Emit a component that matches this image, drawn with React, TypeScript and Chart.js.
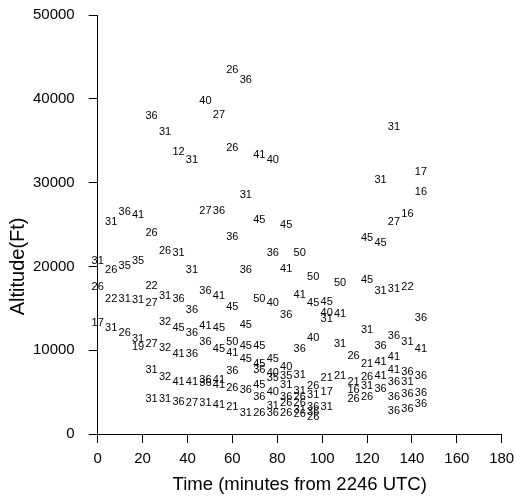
import React, { useEffect, useRef } from "react";
import { Chart, registerables } from "chart.js";
Chart.register(...registerables);

// minutes from 2246 UTC
const times = [
  60, 66, 48, 54, 24, 30, 36, 42, 60, 72, 78, 132, 144, 126, 144, 138, 132, 120, 126, 66,
  6, 12, 18, 48, 54, 24, 72, 84, 60, 30, 36, 0, 6, 12, 18, 42, 78, 90, 66, 84,
  96, 108, 120, 126, 132, 138, 0, 24, 6, 12, 18, 24, 30, 36, 48, 54, 72, 78, 90, 96,
  102, 60, 42, 84, 102, 102, 108, 144, 0, 6, 12, 18, 18, 24, 30, 36, 42, 48, 54, 66,
  30, 36, 42, 48, 54, 60, 60, 66, 72, 66, 78, 96, 90, 120, 108, 132, 138, 126, 144, 114,
  120, 126, 132, 132, 138, 144, 24, 30, 36, 42, 48, 48, 54, 54, 60, 60, 66, 72, 72, 84,
  78, 78, 84, 90, 102, 108, 120, 126, 114, 132, 138, 72, 78, 84, 72, 96, 102, 90, 84, 90,
  96, 114, 120, 126, 132, 138, 144, 114, 120, 144, 132, 138, 102, 24, 30, 36, 42, 48, 54, 60,
  66, 72, 78, 78, 84, 90, 90, 96, 96, 96, 84, 90,
];

// altitude (ft)
const altitudes = [
  43500, 42200, 39700, 38100, 37900, 36100, 33600, 32700, 34100, 33300, 32700, 36600, 31300, 30300, 28900, 26300, 25300, 23400, 22800, 28500,
  25300, 26500, 26100, 26600, 26600, 24000, 25500, 25000, 23500, 21800, 21600, 20600, 19600, 20000, 20600, 19600, 21600, 21600, 19600, 19700,
  18700, 18000, 18400, 17100, 17300, 17600, 17600, 17700, 16100, 16100, 16000, 15600, 16500, 16100, 17100, 16500, 16100, 15600, 16600, 15600,
  15700, 15100, 14800, 14200, 14400, 13700, 14300, 13800, 13300, 12600, 12100, 11300, 10400, 10700, 13400, 12600, 12100, 12900, 12600, 13000,
  10300, 9600, 9500, 11000, 10100, 11000, 9700, 10500, 10500, 9000, 9000, 11400, 10200, 12400, 10700, 11700, 11000, 10500, 10200, 9300,
  8400, 8600, 9200, 7700, 7400, 6900, 7600, 6800, 6200, 6200, 6400, 6050, 6400, 5850, 7550, 5450, 5200, 8350, 7700, 8000,
  7300, 6650, 6900, 7000, 6650, 6900, 6750, 6900, 6250, 6250, 6250, 5850, 5050, 5850, 4450, 5750, 5050, 5150, 4450, 4400,
  4650, 5250, 5750, 5350, 4450, 4750, 4950, 4200, 4400, 3550, 2800, 2950, 3200, 4150, 4150, 3850, 3650, 3650, 3450, 3250,
  2550, 2550, 2550, 3350, 3650, 3750, 2850, 3250, 2650, 2050, 2500, 2400,
];

const pointLabels = [
  "26", "36", "40", "27", "36", "31", "12", "31", "26", "41", "40", "31", "17", "31", "16", "16", "27", "45", "45", "31",
  "31", "36", "41", "27", "36", "26", "45", "45", "36", "26", "31", "31", "26", "35", "35", "31", "36", "50", "36", "41",
  "50", "50", "45", "31", "31", "22", "26", "22", "22", "31", "31", "27", "31", "36", "36", "41", "50", "40", "41", "45",
  "45", "45", "36", "36", "40", "31", "41", "36", "17", "31", "26", "31", "19", "27", "32", "45", "36", "41", "45", "45",
  "32", "41", "36", "36", "45", "50", "41", "45", "45", "45", "45", "40", "36", "31", "31", "36", "31", "36", "41", "26",
  "21", "41", "41", "41", "36", "36", "31", "32", "41", "41", "36", "36", "41", "41", "36", "26", "36", "45", "36", "40",
  "40", "35", "35", "31", "21", "21", "26", "41", "21", "36", "31", "45", "40", "31", "36", "26", "17", "31", "36", "26",
  "31", "16", "31", "36", "36", "36", "36", "26", "26", "36", "36", "36", "31", "31", "31", "36", "27", "31", "41", "21",
  "31", "26", "36", "31", "26", "26", "31", "36", "36", "26", "26", "26",
];

const xTickValues = [0, 20, 40, 60, 80, 100, 120, 140, 160, 180];
const yTickValues = [0, 10000, 20000, 30000, 40000, 50000];
const xTitle = "Time (minutes from 2246 UTC)";
const yTitle = "Altitude(Ft)";

const FONT = "'Liberation Sans', Arial, Helvetica, sans-serif";

const labelPlugin = {
  id: "pointLabels",
  afterDatasetsDraw(chart: any) {
    const ctx = chart.ctx;
    const meta = chart.getDatasetMeta(0);
    ctx.save();
    ctx.font = `11px ${FONT}`;
    ctx.fillStyle = "#000";
    ctx.textAlign = "center";
    ctx.textBaseline = "middle";
    meta.data.forEach((el: any, i: number) => {
      ctx.fillText(pointLabels[i], el.x, el.y);
    });
    ctx.restore();
  },
};

const yTitlePlugin = {
  id: "yTitle",
  afterDraw(chart: any) {
    const ctx = chart.ctx;
    const y = chart.scales.y.getPixelForValue(20000);
    ctx.save();
    ctx.translate(18, y);
    ctx.rotate(-Math.PI / 2);
    ctx.font = `20px ${FONT}`;
    ctx.fillStyle = "#000";
    ctx.textAlign = "center";
    ctx.textBaseline = "middle";
    ctx.fillText(yTitle, 0, 0);
    ctx.restore();
  },
};

export default function App() {
  const ref = useRef<HTMLCanvasElement | null>(null);
  useEffect(() => {
    if (!ref.current) return;
    const chart = new Chart(ref.current, {
      type: "scatter",
      data: {
        datasets: [
          {
            data: times.map((t, i) => ({ x: t, y: altitudes[i] })),
            pointRadius: 0,
            pointHoverRadius: 0,
          },
        ],
      },
      options: {
        responsive: false,
        animation: false,
        events: [],
        layout: { padding: { left: 0, top: 15, right: 13.3, bottom: 0 } },
        plugins: { legend: { display: false }, tooltip: { enabled: false } },
        scales: {
          x: {
            type: "linear",
            min: 0,
            max: 180,
            afterBuildTicks: (s: any) => {
              s.ticks = xTickValues.map((v) => ({ value: v }));
            },
            afterFit: (s: any) => {
              s.height = 63;
              s.paddingLeft = 0;
              s.paddingRight = 0;
            },
            ticks: {
              color: "#000",
              font: { size: 15, family: FONT },
              padding: 7,
              maxRotation: 0,
              callback: (v: any) => String(v),
            },
            grid: {
              display: true,
              drawOnChartArea: false,
              drawTicks: true,
              tickLength: 9,
              tickColor: "#000",
              color: "#000",
            },
            border: { display: true, color: "#000", width: 1 },
            title: {
              display: true,
              text: xTitle,
              color: "#000",
              font: { size: 18.5, family: FONT },
              padding: { top: 0, bottom: 1 },
            },
          },
          y: {
            type: "linear",
            min: 0,
            max: 50000,
            afterBuildTicks: (s: any) => {
              s.ticks = yTickValues.map((v) => ({ value: v }));
            },
            afterFit: (s: any) => {
              s.width = 97.7;
              s.paddingTop = 0;
              s.paddingBottom = 0;
            },
            ticks: {
              color: "#000",
              font: { size: 15, family: FONT },
              padding: 14,
              callback: (v: any) => String(v),
            },
            grid: {
              display: true,
              drawOnChartArea: false,
              drawTicks: true,
              tickLength: 9,
              tickColor: "#000",
              color: "#000",
            },
            border: { display: true, color: "#000", width: 1 },
          },
        },
      },
      plugins: [labelPlugin, yTitlePlugin],
    } as any);
    return () => chart.destroy();
  }, []);
  return (
    <div style={{ position: "absolute", left: 0, top: 0, width: 515, height: 497, background: "#fff" }}>
      <canvas ref={ref} width={515} height={497} style={{ display: "block" }} />
    </div>
  );
}
